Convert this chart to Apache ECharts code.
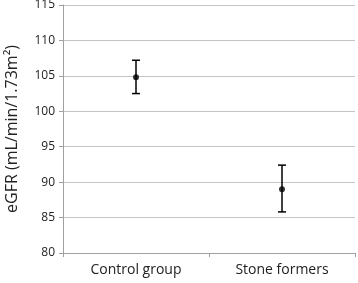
<!DOCTYPE html>
<html>
<head>
<meta charset="utf-8">
<script src="https://cdn.jsdelivr.net/npm/echarts@6/dist/echarts.min.js"></script>
<style>
  html, body { margin: 0; padding: 0; background: #fff; }
  #chart { width: 358px; height: 283px; }
</style>
</head>
<body>
<div id="chart"></div>
<script>
const groups = ['Control group', 'Stone formers'];
const means = [104.8, 89.0];
const upper = [107.2, 92.4];
const lower = [102.5, 85.8];

const chart = echarts.init(document.getElementById('chart'));

// error bar with caps, drawn through the axis coordinates
const renderErrorBar = (params, api) => {
  const x = api.value(0);
  const top = api.coord([x, api.value(1)]);
  const bottom = api.coord([x, api.value(2)]);
  const half = 4;
  const style = { stroke: '#000', lineWidth: 1.5 };
  return {
    type: 'group',
    children: [
      { type: 'line', shape: { x1: top[0], y1: top[1], x2: bottom[0], y2: bottom[1] }, style },
      { type: 'line', shape: { x1: top[0] - half, y1: top[1], x2: top[0] + half, y2: top[1] }, style },
      { type: 'line', shape: { x1: bottom[0] - half, y1: bottom[1], x2: bottom[0] + half, y2: bottom[1] }, style }
    ]
  };
};

chart.setOption({
  animation: false,
  textStyle: { fontFamily: 'Open Sans, sans-serif' },
  grid: { left: 63, right: 3, top: 5, bottom: 30, outerBoundsMode: 'none' },
  xAxis: {
    type: 'category',
    data: groups,
    axisLine: { lineStyle: { color: '#a0a0a0' } },
    axisTick: { show: true, alignWithLabel: false, length: 4, lineStyle: { color: '#a0a0a0' } },
    axisLabel: { color: '#222', fontSize: 14, margin: 10 }
  },
  yAxis: {
    type: 'value',
    min: 80,
    max: 115,
    interval: 5,
    name: 'eGFR (mL/min/1.73m²)',
    nameLocation: 'middle',
    nameGap: 43,
    nameTextStyle: { color: '#222', fontSize: 16 },
    axisLine: { show: true, lineStyle: { color: '#a0a0a0' } },
    axisTick: { show: true, length: 4, lineStyle: { color: '#a0a0a0' } },
    axisLabel: { color: '#222', fontSize: 12, margin: 8 },
    splitLine: { lineStyle: { color: '#c4c4c4' } }
  },
  series: [
    {
      type: 'custom',
      renderItem: renderErrorBar,
      data: groups.map((g, i) => [i, upper[i], lower[i]]),
      z: 2
    },
    {
      type: 'scatter',
      data: groups.map((g, i) => [i, means[i]]),
      symbolSize: 6,
      itemStyle: { color: '#000' },
      z: 3
    }
  ]
});
</script>
</body>
</html>
